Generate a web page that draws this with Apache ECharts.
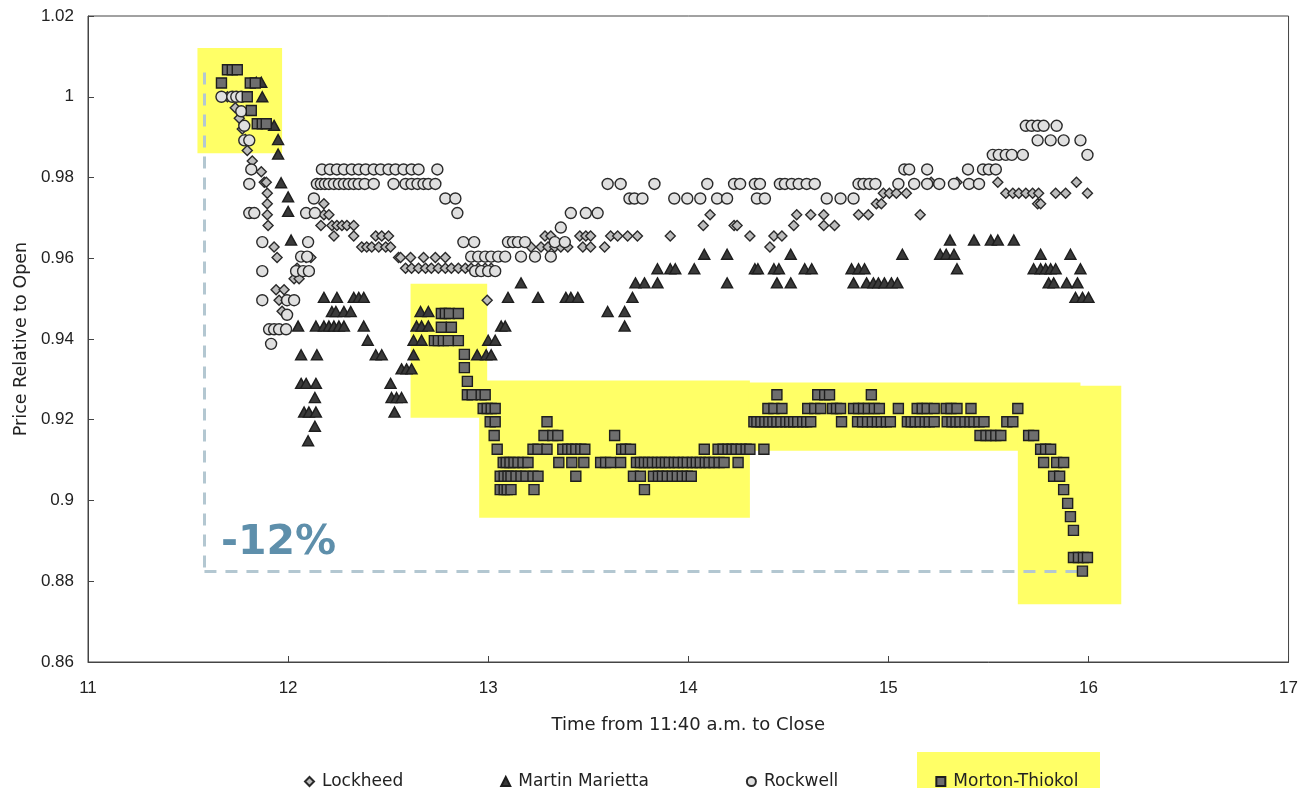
<!DOCTYPE html>
<html><head><meta charset="utf-8">
<script src="https://cdn.jsdelivr.net/npm/echarts@6/dist/echarts.min.js"></script>
<style>html,body{margin:0;padding:0;background:#fff}#c{width:1301px;height:788px}</style>
</head><body><div id="c"></div>
<script>
const seriesNames = ['Lockheed', 'Martin Marietta', 'Rockwell', 'Morton-Thiokol'];
const xTicks = { min: 11, max: 17, step: 1 };
const yTicks = { min: 0.86, max: 1.02, step: 0.02 };

const lockheed = [[11.697,1.0],[11.741,1.0],[11.736,0.9973],[11.756,0.9947],[11.771,0.992],[11.786,0.9894],[11.796,0.9867],[11.821,0.9841],[11.866,0.9814],[11.881,0.9788],[11.891,0.9788],[11.896,0.9761],[11.896,0.9735],[11.896,0.9708],[11.9,0.9681],[11.93,0.9628],[11.945,0.9602],[11.94,0.9522],[11.955,0.9496],[11.97,0.9469],[11.98,0.9522],[11.99,0.9496],[12.03,0.9549],[12.045,0.9575],[12.055,0.9549],[12.09,0.9602],[12.114,0.9602],[12.164,0.9681],[12.179,0.9735],[12.179,0.9708],[12.204,0.9708],[12.219,0.9681],[12.244,0.9681],[12.269,0.9681],[12.294,0.9681],[12.328,0.9681],[12.229,0.9655],[12.328,0.9655],[12.438,0.9655],[12.468,0.9655],[12.502,0.9655],[12.368,0.9628],[12.393,0.9628],[12.418,0.9628],[12.453,0.9628],[12.488,0.9628],[12.512,0.9628],[12.552,0.9602],[12.562,0.9602],[12.612,0.9602],[12.677,0.9602],[12.736,0.9602],[12.786,0.9602],[12.587,0.9575],[12.617,0.9575],[12.652,0.9575],[12.687,0.9575],[12.716,0.9575],[12.751,0.9575],[12.786,0.9575],[12.816,0.9575],[12.851,0.9575],[12.886,0.9575],[12.915,0.9575],[12.95,0.9575],[12.985,0.9575],[13.015,0.9575],[12.995,0.9496],[13.214,0.9628],[13.264,0.9628],[13.299,0.9628],[13.333,0.9628],[13.363,0.9628],[13.398,0.9628],[13.284,0.9655],[13.313,0.9655],[13.458,0.9655],[13.488,0.9655],[13.512,0.9655],[13.473,0.9628],[13.512,0.9628],[13.582,0.9628],[13.612,0.9655],[13.647,0.9655],[13.697,0.9655],[13.746,0.9655],[13.91,0.9655],[14.075,0.9681],[14.109,0.9708],[14.229,0.9681],[14.244,0.9681],[14.308,0.9655],[14.408,0.9628],[14.428,0.9655],[14.468,0.9655],[14.527,0.9681],[14.542,0.9708],[14.612,0.9708],[14.677,0.9708],[14.677,0.9681],[14.731,0.9681],[14.851,0.9708],[14.9,0.9708],[14.94,0.9735],[14.965,0.9735],[14.975,0.9761],[15.005,0.9761],[15.04,0.9761],[15.09,0.9761],[15.159,0.9708],[15.214,0.9788],[15.343,0.9788],[15.547,0.9788],[15.587,0.9761],[15.622,0.9761],[15.652,0.9761],[15.687,0.9761],[15.721,0.9761],[15.751,0.9761],[15.746,0.9735],[15.761,0.9735],[15.836,0.9761],[15.886,0.9761],[15.94,0.9788],[15.995,0.9761]];

const martinMarietta = [[11.841,1.0036],[11.866,1.0036],[11.871,1.0],[11.93,0.9929],[11.95,0.9894],[11.95,0.9858],[11.965,0.9787],[12.0,0.9752],[12.0,0.9716],[12.015,0.9645],[12.05,0.9432],[12.065,0.9361],[12.065,0.929],[12.09,0.929],[12.08,0.9219],[12.1,0.9148],[12.104,0.9219],[12.134,0.9255],[12.134,0.9184],[12.139,0.929],[12.139,0.9219],[12.139,0.9432],[12.144,0.9361],[12.179,0.9503],[12.244,0.9503],[12.328,0.9503],[12.353,0.9503],[12.378,0.9503],[12.219,0.9468],[12.239,0.9468],[12.279,0.9468],[12.313,0.9468],[12.179,0.9432],[12.204,0.9432],[12.229,0.9432],[12.254,0.9432],[12.279,0.9432],[12.378,0.9432],[12.398,0.9397],[12.438,0.9361],[12.468,0.9361],[12.512,0.929],[12.517,0.9255],[12.542,0.9255],[12.567,0.9255],[12.532,0.9219],[12.567,0.9326],[12.592,0.9326],[12.617,0.9326],[12.627,0.9361],[12.627,0.9397],[12.667,0.9397],[12.642,0.9432],[12.667,0.9432],[12.701,0.9432],[12.662,0.9468],[12.701,0.9468],[12.945,0.9361],[12.99,0.9361],[13.015,0.9361],[13.0,0.9397],[13.035,0.9397],[13.065,0.9432],[13.085,0.9432],[13.099,0.9503],[13.164,0.9539],[13.249,0.9503],[13.388,0.9503],[13.413,0.9503],[13.448,0.9503],[13.597,0.9468],[13.682,0.9468],[13.682,0.9432],[13.721,0.9503],[13.736,0.9539],[13.781,0.9539],[13.846,0.9539],[13.846,0.9574],[13.91,0.9574],[13.935,0.9574],[14.03,0.9574],[14.08,0.961],[14.194,0.961],[14.194,0.9539],[14.333,0.9574],[15.308,0.9645],[15.428,0.9645],[15.512,0.9645],[15.547,0.9645],[15.627,0.9645],[14.512,0.961],[15.07,0.961],[15.259,0.961],[15.289,0.961],[15.328,0.961],[15.761,0.961],[15.91,0.961],[14.348,0.9574],[14.428,0.9574],[14.453,0.9574],[14.582,0.9574],[14.617,0.9574],[14.816,0.9574],[14.851,0.9574],[14.881,0.9574],[15.343,0.9574],[15.726,0.9574],[15.761,0.9574],[15.786,0.9574],[15.811,0.9574],[15.836,0.9574],[15.96,0.9574],[14.443,0.9539],[14.512,0.9539],[14.826,0.9539],[14.891,0.9539],[14.925,0.9539],[14.95,0.9539],[14.98,0.9539],[15.015,0.9539],[15.045,0.9539],[15.801,0.9539],[15.826,0.9539],[15.891,0.9539],[15.945,0.9539],[15.935,0.9503],[15.97,0.9503],[16.0,0.9503]];

const rockwell = [[11.667,1.0],[11.721,1.0],[11.741,1.0],[11.766,1.0],[11.766,0.9964],[11.781,0.9928],[11.781,0.9892],[11.806,0.9892],[11.816,0.982],[11.806,0.9784],[11.806,0.9712],[11.831,0.9712],[11.871,0.964],[11.871,0.9568],[11.871,0.9496],[11.995,0.9496],[12.03,0.9496],[11.995,0.946],[11.905,0.9424],[11.93,0.9424],[11.955,0.9424],[11.99,0.9424],[11.915,0.9388],[12.04,0.9568],[12.075,0.9568],[12.104,0.9568],[12.065,0.9604],[12.095,0.9604],[12.1,0.964],[12.09,0.9712],[12.134,0.9712],[12.129,0.9748],[12.144,0.9784],[12.164,0.9784],[12.184,0.9784],[12.204,0.9784],[12.229,0.9784],[12.254,0.9784],[12.279,0.9784],[12.303,0.9784],[12.328,0.9784],[12.353,0.9784],[12.383,0.9784],[12.428,0.9784],[12.527,0.9784],[12.587,0.9784],[12.617,0.9784],[12.647,0.9784],[12.677,0.9784],[12.701,0.9784],[12.736,0.9784],[12.169,0.982],[12.209,0.982],[12.244,0.982],[12.279,0.982],[12.318,0.982],[12.353,0.982],[12.388,0.982],[12.428,0.982],[12.463,0.982],[12.502,0.982],[12.537,0.982],[12.577,0.982],[12.617,0.982],[12.652,0.982],[12.746,0.982],[12.786,0.9748],[12.836,0.9748],[12.846,0.9712],[12.876,0.964],[12.93,0.964],[12.915,0.9604],[12.95,0.9604],[12.985,0.9604],[13.015,0.9604],[13.05,0.9604],[13.085,0.9604],[12.935,0.9568],[12.965,0.9568],[13.0,0.9568],[13.035,0.9568],[13.099,0.964],[13.124,0.964],[13.149,0.964],[13.184,0.964],[13.333,0.964],[13.383,0.964],[13.164,0.9604],[13.234,0.9604],[13.313,0.9604],[13.363,0.9676],[13.413,0.9712],[13.488,0.9712],[13.547,0.9712],[13.597,0.9784],[13.662,0.9784],[13.831,0.9784],[14.095,0.9784],[14.229,0.9784],[14.259,0.9784],[14.333,0.9784],[14.358,0.9784],[13.706,0.9748],[13.731,0.9748],[13.771,0.9748],[13.93,0.9748],[13.995,0.9748],[14.06,0.9748],[14.144,0.9748],[14.194,0.9748],[14.343,0.9748],[14.383,0.9748],[14.458,0.9784],[14.483,0.9784],[14.517,0.9784],[14.552,0.9784],[14.592,0.9784],[14.632,0.9784],[14.851,0.9784],[14.876,0.9784],[14.905,0.9784],[14.935,0.9784],[15.05,0.9784],[15.129,0.9784],[15.194,0.9784],[15.254,0.9784],[15.328,0.9784],[15.403,0.9784],[15.453,0.9784],[14.692,0.9748],[14.761,0.9748],[14.826,0.9748],[15.08,0.982],[15.104,0.982],[15.194,0.982],[15.398,0.982],[15.473,0.982],[15.502,0.982],[15.537,0.982],[15.522,0.9856],[15.552,0.9856],[15.587,0.9856],[15.617,0.9856],[15.672,0.9856],[15.995,0.9856],[15.746,0.9892],[15.811,0.9892],[15.876,0.9892],[15.96,0.9892],[15.687,0.9928],[15.716,0.9928],[15.746,0.9928],[15.776,0.9928],[15.841,0.9928]];

const mortonThiokol = [[11.667,1.0034],[11.697,1.0067],[11.721,1.0067],[11.746,1.0067],[11.796,1.0],[11.811,1.0034],[11.836,1.0034],[11.816,0.9966],[11.846,0.9933],[11.871,0.9933],[11.891,0.9933],[12.731,0.9396],[12.751,0.9396],[12.766,0.9463],[12.766,0.9429],[12.776,0.9396],[12.786,0.9463],[12.801,0.9396],[12.806,0.9463],[12.816,0.9429],[12.851,0.9463],[12.851,0.9396],[12.881,0.9362],[12.881,0.9329],[12.896,0.9295],[12.896,0.9262],[12.92,0.9262],[12.965,0.9262],[12.975,0.9228],[12.985,0.9262],[12.995,0.9228],[13.01,0.9195],[13.015,0.9228],[13.03,0.9161],[13.035,0.9228],[13.035,0.9195],[13.045,0.9127],[13.075,0.9094],[13.09,0.9094],[13.109,0.9094],[13.129,0.9094],[13.149,0.9094],[13.174,0.9094],[13.199,0.9094],[13.06,0.906],[13.08,0.906],[13.099,0.906],[13.114,0.906],[13.139,0.906],[13.164,0.906],[13.189,0.906],[13.224,0.906],[13.249,0.906],[13.06,0.9027],[13.08,0.9027],[13.095,0.9027],[13.114,0.9027],[13.229,0.9027],[13.294,0.9195],[13.279,0.9161],[13.323,0.9161],[13.348,0.9161],[13.632,0.9161],[13.224,0.9127],[13.249,0.9127],[13.294,0.9127],[13.373,0.9127],[13.398,0.9127],[13.418,0.9127],[13.438,0.9127],[13.463,0.9127],[13.483,0.9127],[13.667,0.9127],[13.687,0.9127],[13.711,0.9127],[14.08,0.9127],[14.149,0.9127],[14.174,0.9127],[14.199,0.9127],[14.219,0.9127],[14.239,0.9127],[14.264,0.9127],[14.289,0.9127],[14.308,0.9127],[14.378,0.9127],[13.353,0.9094],[13.418,0.9094],[13.478,0.9094],[13.562,0.9094],[13.587,0.9094],[13.612,0.9094],[13.662,0.9094],[13.741,0.9094],[13.761,0.9094],[13.781,0.9094],[13.801,0.9094],[13.821,0.9094],[13.846,0.9094],[13.866,0.9094],[13.886,0.9094],[13.905,0.9094],[13.93,0.9094],[13.95,0.9094],[13.975,0.9094],[13.995,0.9094],[14.02,0.9094],[14.04,0.9094],[14.06,0.9094],[14.085,0.9094],[14.104,0.9094],[14.129,0.9094],[14.154,0.9094],[14.179,0.9094],[14.249,0.9094],[13.438,0.906],[13.726,0.906],[13.761,0.906],[13.826,0.906],[13.851,0.906],[13.871,0.906],[13.895,0.906],[13.92,0.906],[13.945,0.906],[13.97,0.906],[13.995,0.906],[14.015,0.906],[13.781,0.9027],[14.443,0.9262],[14.647,0.9262],[14.682,0.9262],[14.706,0.9262],[14.915,0.9262],[14.398,0.9228],[14.428,0.9228],[14.468,0.9228],[14.597,0.9228],[14.632,0.9228],[14.662,0.9228],[14.721,0.9228],[14.741,0.9228],[14.761,0.9228],[14.826,0.9228],[14.851,0.9228],[14.876,0.9228],[14.9,0.9228],[14.93,0.9228],[14.955,0.9228],[15.05,0.9228],[15.144,0.9228],[15.169,0.9228],[15.194,0.9228],[15.229,0.9228],[15.289,0.9228],[15.313,0.9228],[15.343,0.9228],[15.413,0.9228],[15.647,0.9228],[14.328,0.9195],[14.343,0.9195],[14.363,0.9195],[14.383,0.9195],[14.403,0.9195],[14.423,0.9195],[14.443,0.9195],[14.463,0.9195],[14.488,0.9195],[14.507,0.9195],[14.527,0.9195],[14.547,0.9195],[14.572,0.9195],[14.592,0.9195],[14.612,0.9195],[14.766,0.9195],[14.846,0.9195],[14.871,0.9195],[14.896,0.9195],[14.92,0.9195],[14.945,0.9195],[14.965,0.9195],[14.99,0.9195],[15.01,0.9195],[15.095,0.9195],[15.114,0.9195],[15.134,0.9195],[15.159,0.9195],[15.184,0.9195],[15.204,0.9195],[15.229,0.9195],[15.294,0.9195],[15.318,0.9195],[15.338,0.9195],[15.358,0.9195],[15.383,0.9195],[15.408,0.9195],[15.428,0.9195],[15.453,0.9195],[15.478,0.9195],[15.592,0.9195],[15.622,0.9195],[15.458,0.9161],[15.488,0.9161],[15.512,0.9161],[15.537,0.9161],[15.562,0.9161],[15.701,0.9161],[15.726,0.9161],[15.761,0.9127],[15.786,0.9127],[15.811,0.9127],[15.776,0.9094],[15.841,0.9094],[15.876,0.9094],[15.826,0.906],[15.856,0.906],[15.876,0.9027],[15.896,0.8993],[15.91,0.896],[15.925,0.8926],[15.925,0.8859],[15.95,0.8859],[15.975,0.8859],[15.995,0.8859],[15.97,0.8825]];

// highlighted regions: [xFrom, yFrom, xTo, yTo]
const highlights = [[11.547,0.986,11.97,1.0121],[12.612,0.9205,12.995,0.9537],[12.955,0.8957,14.308,0.9297],[14.3,0.9123,15.96,0.9292],[15.647,0.8743,16.164,0.9284]];
// -12% guide: corner, top of drop, end of drop
const dropGuide = { x: 11.582, top: 1.006, bottom: 0.8826, end: 15.96 };
const dropLabel = '-12%';

const FONT = '"Liberation Sans", Arial, sans-serif';
const chart = echarts.init(document.getElementById('c'));

function sc(name, data, symbol, size, fill, stroke) {
  return { name, type: 'scatter', data, symbol, symbolSize: size, z: 3, silent: true,
    itemStyle: { color: fill, borderColor: stroke, borderWidth: 1.4, opacity: 1 } };
}

chart.setOption({
  animation: false,
  backgroundColor: '#fff',
  grid: { left: 88, right: 9, top: 16, bottom: 126, show: true, borderColor: '#444', borderWidth: 1 },
  xAxis: {
    type: 'value', min: xTicks.min, max: xTicks.max, interval: xTicks.step,
    name: 'Time from 11:40 a.m. to Close', nameLocation: 'middle', nameGap: 54,
    nameTextStyle: { fontFamily: '"DejaVu Sans"', fontSize: 18, color: '#222' },
    axisLine: { show: true, lineStyle: { color: '#444' } },
    axisTick: { inside: true, length: 6, lineStyle: { color: '#444' } },
    axisLabel: { margin: 18, fontFamily: FONT, fontSize: 17, color: '#222' },
    splitLine: { show: false }
  },
  yAxis: {
    type: 'value', min: yTicks.min, max: yTicks.max, interval: yTicks.step,
    name: 'Price Relative to Open', nameLocation: 'middle', nameGap: 57, nameRotate: 90,
    nameTextStyle: { fontFamily: '"DejaVu Sans"', fontSize: 17.5, color: '#222' },
    axisLine: { show: true, lineStyle: { color: '#444' } },
    axisTick: { inside: true, length: 6, lineStyle: { color: '#444' } },
    axisLabel: { margin: 14, fontFamily: FONT, fontSize: 17, color: '#222' },
    splitLine: { show: false }
  },
  legend: {
    data: seriesNames, left: 299, top: 768, itemGap: 97, itemWidth: 9, itemHeight: 9,
    selectedMode: false,
    textStyle: { fontFamily: '"DejaVu Sans"', fontSize: 17, color: '#222', padding: [0, 0, 0, 3] }
  },
  graphic: [
    { type: 'rect', left: 917, top: 752, z: 0, shape: { width: 183, height: 36 }, style: { fill: '#ffff66' } },
    { type: 'text', left: 221, top: 523, z: 10, style: { text: dropLabel, font: 'bold 41px "DejaVu Sans"', fill: '#5e8fab' } }
  ],
  series: [
    { name: 'highlight', type: 'line', data: [], z: 1, silent: true,
      markArea: { silent: true, z: 1, itemStyle: { color: '#ffff66', opacity: 1, borderWidth: 0 }, label: { show: false },
        data: highlights.map(h => [{ coord: [h[0], h[1]] }, { coord: [h[2], h[3]] }]) } },
    { name: 'guide', type: 'line', data: [], z: 2, silent: true,
      markLine: { silent: true, z: 2, symbol: 'none', label: { show: false },
        lineStyle: { color: '#b3c7d1', width: 3, type: [12, 9] },
        data: [
          [{ coord: [dropGuide.x, dropGuide.top] }, { coord: [dropGuide.x, dropGuide.bottom] }],
          [{ coord: [dropGuide.x, dropGuide.bottom] }, { coord: [dropGuide.end, dropGuide.bottom] }]
        ] } },
    sc('Lockheed', lockheed, 'diamond', [10, 10], '#bdbdbd', '#2a2a2a'),
    sc('Martin Marietta', martinMarietta, 'triangle', [11, 10], '#3a3a3a', '#1e1e1e'),
    sc('Rockwell', rockwell, 'circle', 11, '#e0e0e0', '#2a2a2a'),
    sc('Morton-Thiokol', mortonThiokol, 'rect', [10, 10], '#6e6e6e', '#1e1e1e')
  ]
});
</script></body></html>
